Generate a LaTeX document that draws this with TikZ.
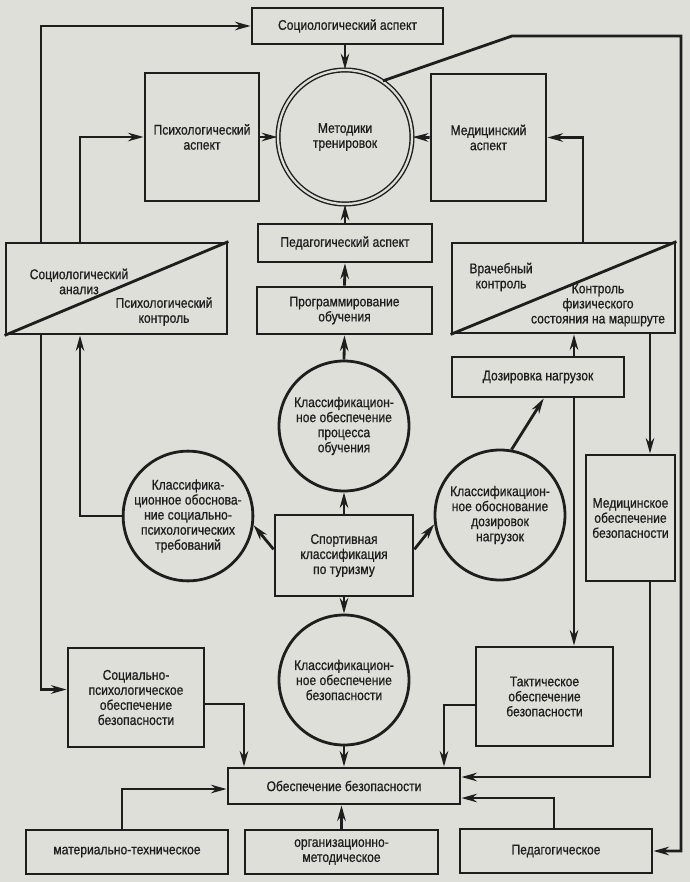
\documentclass[tikz,border=0pt]{standalone}
\usepackage{fontspec}
\setmainfont{Liberation Sans}[FakeStretch=0.86,FakeBold=0.8]
\usetikzlibrary{arrows.meta}
\definecolor{bumaga}{RGB}{223,223,218}
\definecolor{kraska}{RGB}{30,30,30}
\begin{document}
\begin{tikzpicture}[>={Stealth[length=11pt,width=6pt,inset=3.5pt]},x=0.025cm,y=-0.025cm,
		line width=2pt,color=kraska,font=\fontsize{10}{10.7}\selectfont,
		blok/.style 2 args={draw,align=center,inner sep=2pt,minimum width=#1*0.025cm,minimum height=#2*0.025cm},
		krug/.style={draw,circle,align=center,inner sep=0pt,minimum size=#1*0.025cm}]
		\path[use as bounding box,fill=bumaga] (0,0) rectangle (690,882);
		% верх
		\node[blok={191}{36}] (soc) at (347.5,26) {Социологический аспект};
		\node[blok={114}{128}] (psyasp) at (202,137) {Психологический\\аспект};
		\node[krug=134,double=bumaga,double distance=1.6pt,line width=1pt] (met) at (345,137) {Методики\\тренировок};
		\node[blok={115}{127}] (medasp) at (488.5,137.5) {Медицинский\\аспект};
		\node[blok={174}{38}] (pedasp) at (345,243) {Педагогический аспект};
		\node[blok={175}{47}] (prog) at (344.5,310.5) {Программирование\\обучения};
		\node[blok={221}{91}] (lsplit) at (116.5,288.5) {};
		\node[blok={223}{90}] (rsplit) at (563.5,288) {};
		\node[align=center] (lsoc) at (79,281.5) {Социологический\\анализ};
		\node[align=center] (lpsy) at (164,311.5) {Психологический\\контроль};
		\node[align=center] (rvrach) at (501,277) {Врачебный\\контроль};
		\node[align=center] (rfiz) at (598,305) {Контроль\\физического\\состояния на маршруте};
		% середина
		\node[krug=130] (cproc) at (344,426) {Классификацион-\\ное обеспечение\\процесса\\обучения};
		\node[blok={172}{40}] (dos) at (538,377) {Дозировка нагрузок};
		\node[krug=128] (cpsy) at (188,516) {Классифика-\\ционное обоснова-\\ние социально-\\психологических\\требований};
		\node[krug=130] (cdos) at (500,515) {Классификацион-\\ное обоснование\\дозировок\\нагрузок};
		\node[blok={89}{126}] (medsec) at (630.5,518) {Медицинское\\обеспечение\\безопасности};
		\node[blok={138}{81}] (sport) at (344,555.5) {Спортивная\\классификация\\по туризму};
		% низ
		\node[krug=130] (cbez) at (344,680) {Классификацион-\\ное обеспечение\\безопасности};
		\node[blok={136}{99}] (socpsy) at (136,697.5) {Социально-\\психологическое\\обеспечение\\безопасности};
		\node[blok={137}{99}] (tact) at (544.5,696.5) {Тактическое\\обеспечение\\безопасности};
		\node[blok={232}{36}] (obez) at (344,786) {Обеспечение безопасности};
		\node[blok={202}{44}] (mat) at (127,852) {материально-техническое};
		\node[blok={193}{44}] (org) at (341.5,852) {организационно-\\методическое};
		\node[blok={192}{44}] (ped) at (556,851) {Педагогическое};
		\draw (lsplit.south west) -- (lsplit.north east);
		\draw (rsplit.south west) -- (rsplit.north east);
		% связи
		\draw[->] (41,0 |- lsplit.north) |- (soc.west);
		\draw[->] (80,0 |- lsplit.north) |- (psyasp.west);
		\draw[->] (psyasp.east) -- (met.west);
		\draw[->] (met.north |- soc.south) -- (met.north);
		\draw[->] (medasp.west) -- (met.east);
		\draw[->] (583,0 |- rsplit.north) |- (medasp.east);
		\draw[->] (met.56) -- (512,36) -- (681,36) |- (ped.east);
		\draw[->] (pedasp.north) -- (met.south);
		\draw[->] (prog.north) -- (pedasp.south);
		\draw[->] (cproc.north) -- (prog.south);
		\draw[->] (sport.north) -- (cproc.south);
		\draw[->] (sport.south) -- (cbez.north);
		\draw[->] (cbez.south) -- (obez.north);
		\draw[->] (sport.175) -- (cpsy.-8);
		\draw[->] (sport.5) -- (cdos.188);
		\draw[->] (cdos.80) -- (dos.-75);
		\draw[->] (574,0 |- dos.north) -- (574,0 |- rsplit.south);
		\draw[->] (574,0 |- dos.south) -- (574,0 |- tact.north);
		\draw[->] (650,0 |- rsplit.south) -- (650,0 |- medsec.north);
		\draw[->] (650,0 |- medsec.south) |- ([yshift=0.225cm]obez.east);
		\draw[->] (cpsy.west) -| (80,0 |- lsplit.south);
		\draw[->] (41,0 |- lsplit.south) |- ([yshift=0.2cm]socpsy.west);
		\draw[->] ([yshift=-0.16cm]socpsy.east) -| (244,0 |- obez.north);
		\draw[->] ([yshift=-0.21cm]tact.west) -| (444,0 |- obez.north);
		\draw[->] (122,0 |- mat.north) |- ([yshift=-0.075cm]obez.west);
		\draw[->] (org.north) -- (org.north |- obez.south);
		\draw[->] (554,0 |- ped.north) |- ([yshift=-0.3cm]obez.east);
\end{tikzpicture}
\end{document}
